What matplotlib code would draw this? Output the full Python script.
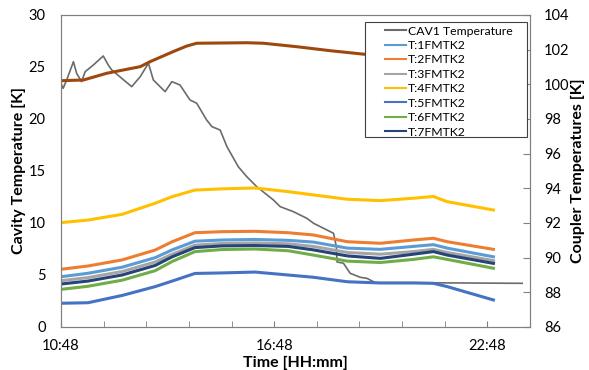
import numpy as np
import matplotlib.pyplot as plt
from matplotlib.patches import Rectangle
from matplotlib.ticker import FixedLocator, MultipleLocator, FuncFormatter

plt.rcParams['font.family'] = ['Lato', 'DejaVu Sans']

#----------------------- data (time in hours of day) -----------------------
# cavity temperature, left axis [K]
cav_t = [10.80, 10.86, 10.96, 11.15, 11.24, 11.38, 11.48, 11.71, 11.99, 12.13,
         12.23, 12.79, 13.03, 13.26, 13.40, 13.73, 13.92, 14.15, 14.43, 14.62,
         14.90, 15.05, 15.28, 15.47, 15.79, 16.03, 16.31, 16.78, 16.97, 17.34,
         17.72, 17.91, 18.19, 18.47, 18.55, 18.57, 18.75, 18.94, 19.22, 19.41,
         19.65, 20.72, 23.78]
cav_temp = [23.43, 22.95, 23.75, 25.51, 24.39, 23.59, 24.55, 25.19, 26.06, 25.19,
            24.71, 23.11, 24.07, 25.36, 23.75, 22.63, 23.59, 23.27, 21.83, 21.51,
            19.90, 19.26, 18.94, 17.34, 15.41, 14.45, 13.49, 12.21, 11.57, 11.09,
            10.45, 9.97, 9.49, 9.01, 7.72, 6.25, 6.13, 5.16, 4.78, 4.68,
            4.26, 4.26, 4.20]

# coupler temperatures, right axis [K]
cpl_t = [10.80, 11.56, 12.52, 13.45, 13.93, 14.57, 15.34, 16.26, 17.19, 17.90,
         18.86, 19.79, 20.72, 21.28, 21.67, 22.97]
t1 = [88.90, 89.10, 89.45, 90.00, 90.45, 90.95, 91.02, 91.05, 91.00, 90.90,
      90.55, 90.48, 90.65, 90.75, 90.55, 90.05]
t2 = [89.33, 89.52, 89.87, 90.44, 90.92, 91.44, 91.50, 91.52, 91.44, 91.31,
      90.92, 90.83, 91.02, 91.12, 90.92, 90.48]
t3 = [88.67, 88.85, 89.20, 89.75, 90.20, 90.72, 90.82, 90.85, 90.80, 90.65,
      90.30, 90.20, 90.35, 90.48, 90.30, 89.83]
t4 = [92.02, 92.17, 92.50, 93.14, 93.52, 93.90, 93.97, 94.02, 93.81, 93.62,
      93.37, 93.29, 93.43, 93.53, 93.23, 92.75]
t5 = [87.37, 87.40, 87.82, 88.33, 88.65, 89.09, 89.12, 89.17, 89.00, 88.87,
      88.61, 88.54, 88.54, 88.52, 88.33, 87.56]
t6 = [88.17, 88.35, 88.70, 89.25, 89.78, 90.35, 90.47, 90.50, 90.40, 90.15,
      89.80, 89.72, 89.90, 90.05, 89.90, 89.39]
t7 = [88.48, 88.65, 89.00, 89.55, 90.05, 90.58, 90.68, 90.70, 90.65, 90.45,
      90.10, 89.96, 90.20, 90.35, 90.15, 89.67]

# extra coupler trace (not in legend)
top_t = [10.80, 11.43, 12.09, 13.03, 13.31, 13.96, 14.34, 14.62, 16.03, 16.50,
         17.44, 18.38, 19.32, 20.35, 23.00]
top_temp = [100.21, 100.25, 100.64, 101.02, 101.31, 101.89, 102.21, 102.37, 102.40, 102.37,
            102.17, 101.94, 101.74, 101.55, 101.10]

coupler = [('T:1FMTK2', t1, '#5B9BD5'), ('T:2FMTK2', t2, '#ED7D31'),
           ('T:3FMTK2', t3, '#A5A5A5'), ('T:4FMTK2', t4, '#FFC000'),
           ('T:5FMTK2', t5, '#4472C4'), ('T:6FMTK2', t6, '#70AD47'),
           ('T:7FMTK2', t7, '#264478')]

#----------------------- plot -----------------------
fig = plt.figure(figsize=(5.89, 3.70), dpi=100)
ax = fig.add_axes([61/589, 43/370, 469/589, 312/370])
ax2 = ax.twinx()

cav_line, = ax.plot(cav_t, cav_temp, color='#6b6b6b', lw=1.2, label='CAV1 Temperature')

ax2.plot(top_t, top_temp, color='#9E480E', lw=2.2)
handles = [cav_line]
for name, vals, col in coupler:
    h, = ax2.plot(cpl_t, vals, color=col, lw=2.2, label=name)
    handles.append(h)

ax.set_xlim(10.8, 24.0)
ax.set_ylim(0, 30)
ax2.set_ylim(86, 104)

def hhmm(x, pos):
    m = int(round(x * 60))
    return '%d:%02d' % (m // 60, m % 60)

ax.xaxis.set_major_locator(FixedLocator([10.8, 16.8, 22.8]))
ax.xaxis.set_major_formatter(FuncFormatter(hhmm))
ax.xaxis.set_minor_locator(MultipleLocator(1.2))
ax.yaxis.set_major_locator(MultipleLocator(5))
ax2.yaxis.set_major_locator(MultipleLocator(2))

ax.tick_params(axis='x', which='both', direction='in', length=4, color='#808080',
               labelsize=10.5, pad=9)
ax.tick_params(axis='y', length=0, labelsize=10.5, pad=11)
ax2.tick_params(axis='y', direction='in', length=5, color='#808080', labelsize=10.5, pad=10)

for a in (ax, ax2):
    for s in a.spines.values():
        s.set_color('#808080')

ax.set_xlabel('Time [HH:mm]', fontsize=11.5, fontweight='bold', va='center')
ax.set_ylabel('Cavity Temperature [K]', fontsize=11.5, fontweight='bold', va='center')
ax2.set_ylabel('Coupler Temperatures [K]', fontsize=11.5, fontweight='bold', va='center')
ax.xaxis.set_label_coords(0.5, -0.115)
ax.yaxis.set_label_coords(-0.09, 0.5)
ax2.yaxis.set_label_coords(1.102, 0.5)

# legend box (Excel style, wide left margin)
box = Rectangle((0.6482, 0.609), 0.3454, 0.3686, transform=ax2.transAxes,
                facecolor='white', edgecolor='#404040', lw=0.8, zorder=4.5)
ax2.add_patch(box)
leg = ax2.legend(handles=handles, loc='upper left', bbox_to_anchor=(0.6908, 0.966),
                 fontsize=8.8, frameon=False, handlelength=1.7, handletextpad=0.2,
                 labelspacing=0.28, borderpad=0, borderaxespad=0)
for lh in leg.get_lines():
    lh.set_linewidth(1.5)

fig.savefig('out.png', dpi=100)
